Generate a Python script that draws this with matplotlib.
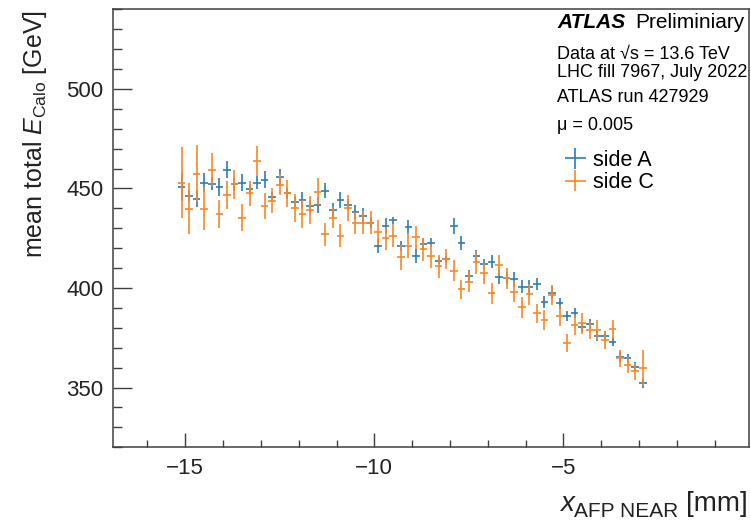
import matplotlib
matplotlib.use("Agg")
import matplotlib.pyplot as plt
from matplotlib.ticker import MultipleLocator

plt.rcParams['font.family'] = ['Liberation Sans', 'DejaVu Sans']
plt.rcParams['mathtext.fontset'] = 'custom'
plt.rcParams['mathtext.rm'] = 'Liberation Sans'
plt.rcParams['mathtext.it'] = 'Liberation Sans:italic'
plt.rcParams['mathtext.bf'] = 'Liberation Sans:bold'

# bin centres of x_AFP NEAR [mm]
x_bins = [-15.1, -14.9, -14.7, -14.5, -14.3, -14.1, -13.9, -13.7, -13.5, -13.3,
          -13.1, -12.9, -12.7, -12.5, -12.3, -12.1, -11.9, -11.7, -11.5, -11.3,
          -11.1, -10.9, -10.7, -10.5, -10.3, -10.1, -9.9, -9.7, -9.5, -9.3,
          -9.1, -8.9, -8.7, -8.5, -8.3, -8.1, -7.9, -7.7, -7.5, -7.3,
          -7.1, -6.9, -6.7, -6.5, -6.3, -6.1, -5.9, -5.7, -5.5, -5.3,
          -5.1, -4.9, -4.7, -4.5, -4.3, -4.1, -3.9, -3.7, -3.5, -3.3,
          -3.1, -2.9]

# mean total E_Calo [GeV], side A
side_a = [450.8, 446.1, 444.6, 453.0, 452.5, 450.8, 459.5, 452.1, 453.0, 449.5,
          453.0, 454.5, 445.8, 455.8, 447.5, 443.3, 444.1, 441.0, 441.6, 448.8,
          439.1, 444.1, 441.9, 438.3, 436.3, 432.9, 421.1, 431.2, 434.1, 421.2,
          430.7, 416.0, 422.1, 422.7, 413.7, 414.4, 431.2, 422.7, 406.0, 416.0,
          412.0, 413.2, 405.7, 405.0, 404.3, 400.7, 400.7, 402.0, 393.1, 397.7,
          392.3, 386.0, 387.6, 380.3, 381.9, 375.9, 375.9, 373.1, 365.3, 364.7,
          360.2, 352.2]
side_a_err = [7.0, 2.6, 4.0, 4.6, 3.4, 4.6, 4.4, 3.4, 4.4, 2.6,
              3.4, 4.4, 2.2, 4.0, 2.6, 2.6, 4.0, 3.4, 4.0, 3.8,
              3.4, 4.0, 2.6, 3.4, 4.0, 2.6, 3.6, 3.8, 1.8, 2.6,
              3.6, 3.6, 3.2, 2.2, 1.8, 1.8, 4.0, 3.4, 3.2, 3.0,
              2.6, 3.2, 3.6, 3.0, 3.8, 3.4, 3.4, 3.1, 3.1, 3.2,
              2.8, 2.7, 2.6, 2.6, 2.6, 2.6, 2.6, 2.3, 2.6, 2.4,
              2.5, 2.2]

# side C
side_c = [453.0, 439.9, 457.5, 439.9, 459.5, 437.4, 446.6, 452.1, 435.4, 447.5,
          463.7, 441.1, 443.8, 452.0, 447.5, 440.4, 437.4, 439.4, 448.3, 427.1,
          435.4, 426.2, 440.4, 432.8, 432.8, 432.9, 427.9, 424.9, 426.2, 415.4,
          421.2, 425.4, 419.4, 416.0, 411.0, 414.4, 408.7, 399.3, 403.2, 412.9,
          407.4, 397.3, 411.5, 404.8, 398.2, 390.3, 396.8, 387.3, 384.0, 396.5,
          386.0, 372.3, 381.5, 382.3, 378.9, 378.9, 373.9, 379.3, 364.7, 361.4,
          358.1, 359.7]
side_c_err = [18.0, 12.8, 14.4, 10.7, 8.2, 7.0, 7.0, 7.4, 7.0, 6.5,
              7.4, 6.5, 6.2, 5.3, 6.8, 7.0, 7.0, 7.0, 6.8, 5.8,
              5.5, 5.8, 6.5, 5.5, 5.8, 5.8, 6.5, 5.8, 5.8, 6.2,
              6.2, 5.8, 5.8, 6.0, 5.8, 5.0, 5.3, 4.8, 5.3, 5.8,
              5.3, 5.3, 5.3, 5.3, 5.3, 5.2, 5.2, 4.9, 5.1, 5.1,
              4.9, 4.5, 5.2, 5.3, 4.7, 4.9, 4.7, 4.7, 4.3, 4.0,
              4.3, 9.0]

W, H = 751, 522
fig = plt.figure(figsize=(W / 100, H / 100), dpi=100)
ax = fig.add_axes([112.7 / W, 1 - 447.3 / H, (749 - 112.7) / W, (447.3 - 9.3) / H])

ha = ax.errorbar(x_bins, side_a, xerr=0.1, yerr=side_a_err, fmt='none',
                 ecolor='#2a7db8', elinewidth=1.2, capsize=0, label='side A')
hc = ax.errorbar(x_bins, side_c, xerr=0.1, yerr=side_c_err, fmt='none',
                 ecolor='#fd8624', elinewidth=1.2, capsize=0, label='side C')

ax.set_xlim(-16.92, -0.09)
ax.set_ylim(320, 540)
ax.xaxis.set_major_locator(MultipleLocator(5))
ax.xaxis.set_minor_locator(MultipleLocator(1))
ax.yaxis.set_major_locator(MultipleLocator(50))
ax.yaxis.set_minor_locator(MultipleLocator(10))

frame = '#404040'
for s in ax.spines.values():
    s.set_color(frame)
    s.set_linewidth(1.1)
ax.tick_params(axis='both', which='both', direction='in', colors=frame,
               labelcolor='#222222', labelsize=16, width=1.0)
ax.tick_params(axis='y', which='major', length=13.5, pad=6.5)
ax.tick_params(axis='y', which='minor', length=6.5)
ax.tick_params(axis='x', which='major', length=10, pad=8)
ax.tick_params(axis='x', which='minor', length=5)

# axis titles, aligned to the ends of the axes
fig.text(42 / W, 1 - 10 / H, r'mean total $E_{\mathrm{Calo}}$ [GeV]',
         rotation=90, rotation_mode='anchor', ha='right', va='baseline',
         fontsize=18, color='#222222')
fig.text(560 / W, 1 - 511 / H, 'x', fontstyle='italic', fontsize=20,
         va='baseline', color='#222222')
fig.text(574 / W, 1 - 517 / H, 'AFP NEAR', fontsize=15,
         va='baseline', color='#222222')
fig.text(748 / W, 1 - 511 / H, '[mm]', fontsize=20, ha='right',
         va='baseline', color='#222222')

# labels block
tx = 557 / W
fig.text(tx, 1 - 27.5 / H, 'ATLAS', fontsize=15, fontweight='bold',
         fontstyle='italic', va='baseline')
fig.text(635 / W, 1 - 27.5 / H, 'Preliminiary', fontsize=15, va='baseline')
fig.text(tx, 1 - 59 / H, 'Data at √s = 13.6 TeV', fontsize=13, va='baseline')
fig.text(tx, 1 - 77 / H, 'LHC fill 7967, July 2022', fontsize=13, va='baseline')
fig.text(tx, 1 - 102 / H, 'ATLAS run 427929', fontsize=13, va='baseline')
fig.text(tx, 1 - 130 / H, 'μ = 0.005', fontsize=13, va='baseline')

ax.legend(handles=[ha, hc], loc='upper left', bbox_to_anchor=(563 / W, 1 - 150 / H),
          bbox_transform=fig.transFigure, frameon=False, fontsize=15.5,
          borderpad=0, borderaxespad=0, handlelength=1.16, handletextpad=0.25,
          labelspacing=0.05)

fig.savefig('out.png', dpi=100)
